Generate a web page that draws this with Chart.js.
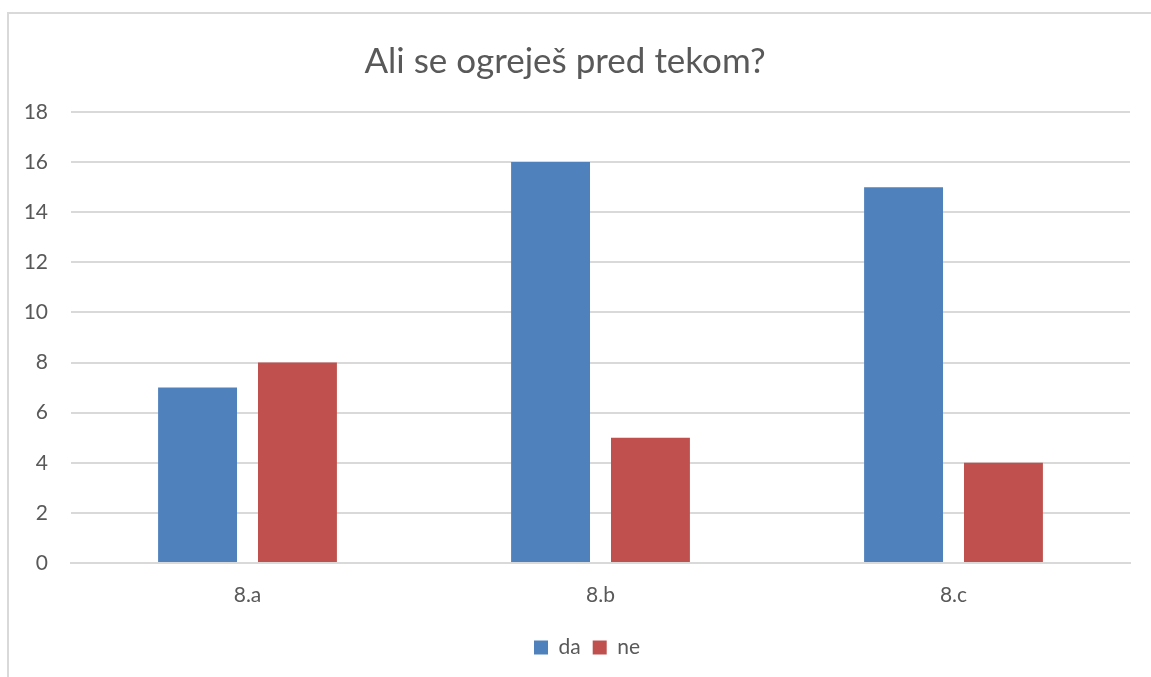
<!DOCTYPE html>
<html>
<head>
<meta charset="utf-8">
<script src="https://cdn.jsdelivr.net/npm/chart.js@4"></script>
<style>
  html, body { margin: 0; padding: 0; background: #fff; overflow: hidden; }
  #frame {
    position: absolute; left: 7px; top: 12px; width: 1160px; height: 700px;
    border-left: 2px solid #d9d9d9; border-top: 2px solid #d9d9d9;
  }
  #chart { position: absolute; left: 0; top: 0; }
</style>
</head>
<body>
<div id="frame"></div>
<canvas id="chart" width="1151" height="677"></canvas>
<script>
// 데이터
const categories = ["8.a", "8.b", "8.c"];
const daValues = [7, 16, 15];
const neValues = [8, 5, 4];
const yTicks = [0, 2, 4, 6, 8, 10, 12, 14, 16, 18];

const FONT = "Lato, 'Open Sans', sans-serif";
const GREY = "#595959";

const data = {
  labels: categories,
  datasets: [
    {
      label: "da",
      data: daValues,
      backgroundColor: "#4f81bd",
      barPercentage: 0.79,
      categoryPercentage: 0.566,
    },
    {
      label: "ne",
      data: neValues,
      backgroundColor: "#c0504d",
      barPercentage: 0.79,
      categoryPercentage: 0.566,
    },
  ],
};

// 레전드를 조금 오른쪽으로 이동
const legendShift = {
  id: "legendShift",
  afterLayout(chart) {
    chart.legend.left += 22;
    chart.legend.right += 22;
  },
};

const options = {
  responsive: false,
  animation: false,
  layout: {
    padding: { left: 0, right: 21, top: 0, bottom: 9 },
  },
  plugins: {
    title: {
      display: true,
      text: "Ali se ogreješ pred tekom?",
      color: GREY,
      font: { family: FONT, size: 35, weight: "normal" },
      padding: { top: 41, bottom: 29 },
    },
    legend: {
      position: "bottom",
      labels: {
        color: GREY,
        font: { family: FONT, size: 21 },
        boxWidth: 14,
        boxHeight: 14,
        padding: 12,
      },
    },
    tooltip: { enabled: false },
  },
  scales: {
    x: {
      grid: { display: false, drawTicks: false },
      border: { color: "#d9d9d9", width: 2 },
      ticks: {
        color: GREY,
        font: { family: FONT, size: 21 },
        padding: 20,
      },
      afterFit: (scale) => { scale.height = 62; },
    },
    y: {
      min: 0,
      max: 18,
      afterBuildTicks: (scale) => {
        scale.ticks = yTicks.map((v) => ({ value: v }));
      },
      grid: { color: "#d9d9d9", lineWidth: 2, drawTicks: false },
      border: { display: false },
      ticks: {
        color: GREY,
        font: { family: FONT, size: 21 },
        padding: 23,
      },
      afterFit: (scale) => { scale.width = 71; },
    },
  },
};

new Chart(document.getElementById("chart").getContext("2d"), {
  type: "bar",
  data: data,
  options: options,
  plugins: [legendShift],
});
</script>
</body>
</html>
